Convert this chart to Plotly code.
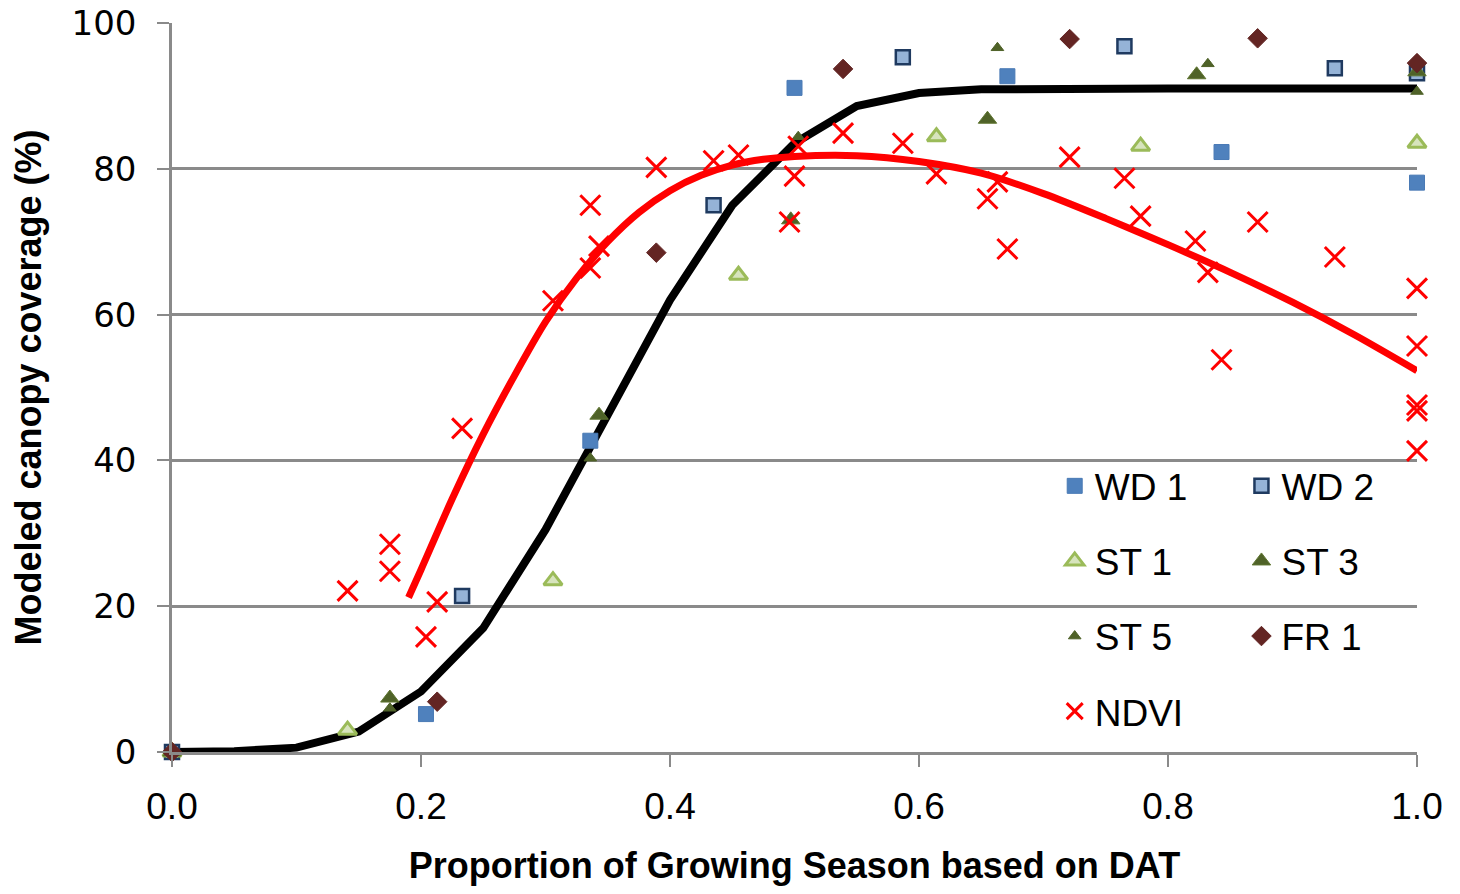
import plotly.graph_objects as go

# ---- data ----
# model canopy curve (black)
model_x = [0.0, 0.05, 0.1, 0.15, 0.2, 0.25, 0.3, 0.35, 0.4, 0.45, 0.5, 0.55, 0.6,
           0.65, 0.7, 0.75, 0.8, 0.85, 0.9, 0.95, 1.0]
model_y = [0.0, 0.1, 0.6, 2.8, 8.3, 17.0, 30.5, 46.5, 62.0, 75.0, 83.5, 88.6, 90.4,
           90.9, 91.0, 91.0, 91.0, 91.0, 91.0, 91.0, 91.0]

# NDVI fit curve (red)
fit_x = [0.19, 0.2, 0.225, 0.25, 0.275, 0.3, 0.325, 0.35, 0.375, 0.4, 0.425, 0.45,
         0.475, 0.5, 0.55, 0.6, 0.65, 0.7, 0.75, 0.8, 0.85, 0.9, 0.95, 1.0]
fit_y = [21.2, 25.0, 34.7, 43.6, 51.6, 59.0, 65.0, 70.0, 74.0, 77.0, 79.1, 80.5,
         81.3, 81.7, 81.8, 81.0, 79.4, 76.6, 73.2, 69.6, 65.8, 61.7, 57.2, 52.3]

wd1_x = [0.0, 0.204, 0.336, 0.500, 0.671, 0.843, 1.0]
wd1_y = [0.0, 5.2, 42.7, 91.1, 92.7, 82.3, 78.1]

wd2_x = [0.0, 0.233, 0.435, 0.587, 0.765, 0.934, 1.0]
wd2_y = [0.0, 21.4, 75.0, 95.3, 96.8, 93.8, 93.1]

st1_x = [0.0, 0.141, 0.306, 0.455, 0.614, 0.778, 1.0]
st1_y = [0.0, 3.0, 23.5, 65.4, 84.4, 83.1, 83.5]

st3_x = [0.0, 0.175, 0.343, 0.497, 0.655, 0.823, 1.0]
st3_y = [0.0, 7.4, 46.2, 73.0, 86.8, 92.9, 93.3]

st5_x = [0.0, 0.175, 0.336, 0.503, 0.663, 0.832, 1.0]
st5_y = [0.0, 6.0, 40.3, 84.4, 96.6, 94.4, 90.6]

fr1_x = [0.0, 0.213, 0.389, 0.539, 0.721, 0.872, 1.0]
fr1_y = [0.0, 6.9, 68.5, 93.7, 97.8, 97.9, 94.5]

ndvi_x = [0.141, 0.175, 0.175, 0.204, 0.213, 0.233, 0.306, 0.336, 0.336, 0.343,
          0.389, 0.435, 0.455, 0.496, 0.500, 0.503, 0.539, 0.587, 0.614, 0.655,
          0.663, 0.671, 0.721, 0.765, 0.778, 0.822, 0.832, 0.843, 0.872, 0.934,
          1.0, 1.0, 1.0, 1.0, 1.0]
ndvi_y = [22.1, 28.5, 24.8, 15.8, 20.6, 44.4, 61.9, 75.0, 66.4, 69.4,
          80.2, 81.1, 81.9, 72.7, 79.0, 83.1, 84.9, 83.5, 79.3, 75.9,
          78.2, 69.0, 81.6, 78.7, 73.5, 70.1, 65.8, 53.8, 72.7, 67.9,
          63.6, 55.7, 47.6, 46.8, 41.3]

x_ticks = [0.0, 0.2, 0.4, 0.6, 0.8, 1.0]
x_ticklabels = ["0.0", "0.2", "0.4", "0.6", "0.8", "1.0"]
y_ticks = [0, 20, 40, 60, 80, 100]

GRID = "#8a8a8a"

fig = go.Figure()

fig.add_trace(go.Scatter(x=model_x, y=model_y, mode="lines", showlegend=False,
                         line=dict(color="black", width=8), hoverinfo="skip"))
fig.add_trace(go.Scatter(x=fit_x, y=fit_y, mode="lines", showlegend=False,
                         line=dict(color="#ff0000", width=7, shape="spline", smoothing=0.8),
                         hoverinfo="skip"))


def pts(x, y, name, marker, legend, group):
    fig.add_trace(go.Scatter(x=x, y=y, mode="markers", name=name, marker=marker,
                             legend=legend, legendgroup=group, cliponaxis=False))


pts(wd1_x, wd1_y, "WD 1",
    dict(symbol="square", size=15, color="#4f81bd", line=dict(color="#4a7ab5", width=1)),
    "legend", "g1")
pts(wd2_x, wd2_y, "WD 2",
    dict(symbol="square", size=14, color="#95b3d7", line=dict(color="#1f3a60", width=2.5)),
    "legend2", "g2")
pts(st1_x, st1_y, "ST 1",
    dict(symbol="triangle-up", size=16, color="#d7e4bd", line=dict(color="#9bbb59", width=3)),
    "legend", "g3")
pts(st3_x, st3_y, "ST 3",
    dict(symbol="triangle-up", size=16, color="#4f6228", line=dict(color="#5f7530", width=1)),
    "legend2", "g4")
pts(st5_x, st5_y, "ST 5",
    dict(symbol="triangle-up", size=11, color="#4f6228", line=dict(color="#4f6228", width=1)),
    "legend", "g5")
pts(fr1_x, fr1_y, "FR 1",
    dict(symbol="diamond", size=15, color="#632523", line=dict(color="#632523", width=1)),
    "legend2", "g6")
pts(ndvi_x, ndvi_y, "NDVI",
    dict(symbol="x-thin", size=20, color="#ff0000", line=dict(color="#ff0000", width=3)),
    "legend", "g7")

legend_common = dict(
    bgcolor="rgba(0,0,0,0)", borderwidth=0, orientation="v",
    font=dict(family="Liberation Sans", size=37, color="black"),
    tracegroupgap=24, xanchor="left", yanchor="top", itemsizing="trace",
)

fig.update_layout(
    width=1460, height=894,
    margin=dict(l=172, r=43, t=23, b=142, autoexpand=False),
    paper_bgcolor="white", plot_bgcolor="white",
    legend=dict(x=0.709, y=0.407, **legend_common),
    legend2=dict(x=0.859, y=0.407, **legend_common),
    xaxis=dict(
        range=[0, 1], tickvals=x_ticks, ticktext=x_ticklabels,
        automargin=False,
        showgrid=False, zeroline=False,
        showline=True, linecolor=GRID, linewidth=2.5,
        ticks="outside", ticklen=12, tickwidth=2, tickcolor=GRID,
        ticklabelstandoff=8,
        tickfont=dict(family="Liberation Sans", size=37, color="black"),
        title=dict(text="<b>Proportion of Growing Season based on DAT</b>",
                   font=dict(family="Liberation Sans", size=36, color="black"),
                   standoff=27),
    ),
    yaxis=dict(
        range=[0, 100], tickvals=y_ticks,
        automargin=False,
        showgrid=True, gridcolor=GRID, gridwidth=2.5, zeroline=False,
        showline=True, linecolor=GRID, linewidth=2.5,
        ticks="outside", ticklen=12, tickwidth=2, tickcolor=GRID,
        ticklabelstandoff=14,
        tickfont=dict(family="DejaVu Sans", size=34, color="black"),
        title=dict(text="<b>Modeled canopy coverage (%)</b>",
                   font=dict(family="Liberation Sans", size=36, color="black"),
                   standoff=19),
    ),
)

fig.write_html("out.html")
